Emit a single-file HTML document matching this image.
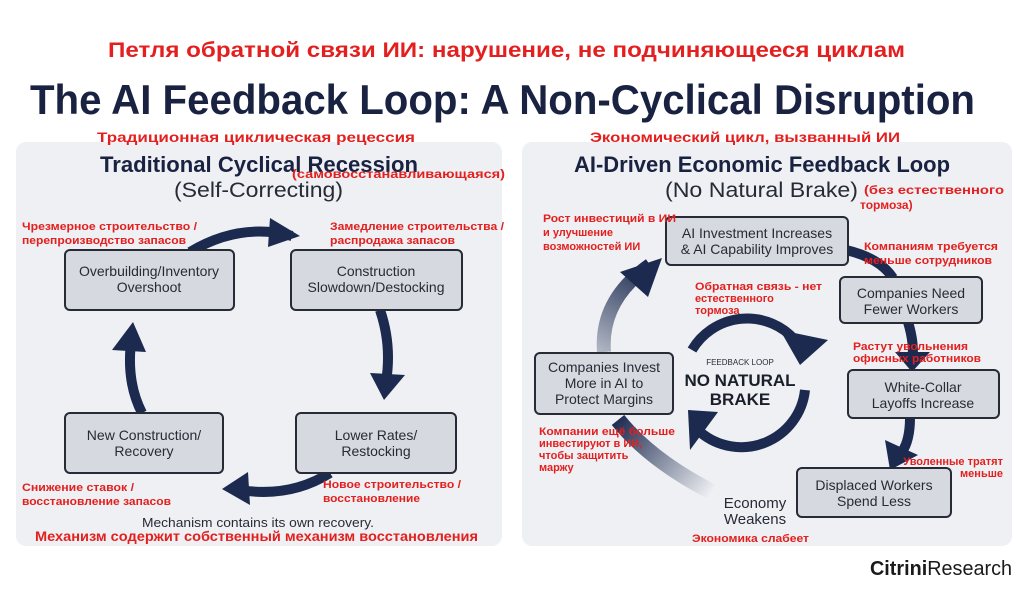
<!DOCTYPE html>
<html><head><meta charset="utf-8"><style>
html,body{margin:0;padding:0;background:#fff;}
svg{display:block}
text{font-family:"Liberation Sans","DejaVu Sans",sans-serif}
.r{fill:#e3201f;font-weight:bold;font-size:11px}
.bx{fill:#d6d9df;stroke:#262b36;stroke-width:2}
.bt{fill:#262b36;font-size:14px;text-anchor:middle}
.ar{fill:none;stroke:#1c2a50;stroke-width:10}
.ah{fill:#1c2a50}
</style></head><body>
<svg width="1024" height="589" viewBox="0 0 1024 589" xmlns="http://www.w3.org/2000/svg">
<defs>
<linearGradient id="fade" x1="710" y1="495" x2="615" y2="420" gradientUnits="userSpaceOnUse">
<stop offset="0" stop-color="#1c2a50" stop-opacity="0"/><stop offset="1" stop-color="#1c2a50" stop-opacity="1"/></linearGradient>
<linearGradient id="fade2" x1="600" y1="350" x2="650" y2="265" gradientUnits="userSpaceOnUse">
<stop offset="0" stop-color="#1c2a50" stop-opacity="0.3"/><stop offset="1" stop-color="#1c2a50" stop-opacity="1"/></linearGradient>
</defs>
<rect x="16" y="142" width="486" height="404" rx="10" fill="#eef0f3"/>
<rect x="522" y="142" width="490" height="404" rx="10" fill="#eef0f3"/>

<text x="108" y="57" textLength="797" lengthAdjust="spacingAndGlyphs" style="fill:#e3201f;font-weight:bold;font-size:21px">Петля обратной связи ИИ: нарушение, не подчиняющееся циклам</text>
<text x="30" y="114" textLength="945" lengthAdjust="spacingAndGlyphs" style="fill:#1a2242;font-weight:bold;font-size:42px">The AI Feedback Loop: A Non-Cyclical Disruption</text>

<!-- LEFT -->
<text class="r" x="97" y="142" textLength="318" lengthAdjust="spacingAndGlyphs" style="font-size:14px">Традиционная циклическая рецессия</text>
<text x="100" y="172" textLength="318" lengthAdjust="spacingAndGlyphs" style="fill:#1a2242;font-weight:bold;font-size:22px">Traditional Cyclical Recession</text>
<text x="174" y="197" textLength="169" lengthAdjust="spacingAndGlyphs" style="fill:#262b36;font-size:21px">(Self-Correcting)</text>
<text class="r" x="292" y="178" textLength="213" lengthAdjust="spacingAndGlyphs" style="font-size:12px">(самовосстанавливающаяся)</text>

<path class="ar" d="M190 252 Q240 222 292 236"/>
<polygon class="ah" points="270,218 300,236 268,247"/>
<path class="ar" d="M380 310 Q392 345 386 382"/>
<polygon class="ah" points="370,373 405,375 384,400"/>
<path class="ar" d="M330 473 Q290 498 240 490"/>
<polygon class="ah" points="248,472 222,489 250,505"/>
<path class="ar" d="M142 413 Q125 380 132 335"/>
<polygon class="ah" points="112,350 133,322 146,352"/>

<rect class="bx" x="65" y="250" width="169" height="60" rx="5"/>
<text class="bt" x="149" y="276">Overbuilding/Inventory</text><text class="bt" x="149" y="292">Overshoot</text>
<rect class="bx" x="291" y="250" width="171" height="60" rx="5"/>
<text class="bt" x="376" y="276">Construction</text><text class="bt" x="376" y="292">Slowdown/Destocking</text>
<rect class="bx" x="65" y="413" width="158" height="60" rx="5"/>
<text class="bt" x="144" y="440">New Construction/</text><text class="bt" x="144" y="456">Recovery</text>
<rect class="bx" x="296" y="413" width="160" height="60" rx="5"/>
<text class="bt" x="376" y="440">Lower Rates/</text><text class="bt" x="376" y="456">Restocking</text>

<text class="r" x="22" y="230" textLength="175" lengthAdjust="spacingAndGlyphs">Чрезмерное строительство /</text>
<text class="r" x="22" y="244" textLength="164" lengthAdjust="spacingAndGlyphs">перепроизводство запасов</text>
<text class="r" x="330" y="230" textLength="174" lengthAdjust="spacingAndGlyphs">Замедление строительства /</text>
<text class="r" x="330" y="244" textLength="125" lengthAdjust="spacingAndGlyphs">распродажа запасов</text>
<text class="r" x="22" y="491" textLength="112" lengthAdjust="spacingAndGlyphs">Снижение ставок /</text>
<text class="r" x="22" y="505" textLength="149" lengthAdjust="spacingAndGlyphs">восстановление запасов</text>
<text class="r" x="323" y="488" textLength="138" lengthAdjust="spacingAndGlyphs">Новое строительство /</text>
<text class="r" x="323" y="502" textLength="97" lengthAdjust="spacingAndGlyphs">восстановление</text>
<text x="142" y="527" textLength="232" lengthAdjust="spacingAndGlyphs" style="fill:#262b36;font-size:13px">Mechanism contains its own recovery.</text>
<text class="r" x="35" y="541" textLength="443" lengthAdjust="spacingAndGlyphs" style="font-size:14px">Механизм содержит собственный механизм восстановления</text>

<!-- RIGHT -->
<text class="r" x="590" y="142" textLength="310" lengthAdjust="spacingAndGlyphs" style="font-size:14px">Экономический цикл, вызванный ИИ</text>
<text x="574" y="172" textLength="376" lengthAdjust="spacingAndGlyphs" style="fill:#1a2242;font-weight:bold;font-size:22px">AI-Driven Economic Feedback Loop</text>
<text x="665" y="197" textLength="193" lengthAdjust="spacingAndGlyphs" style="fill:#262b36;font-size:21px">(No Natural Brake)</text>
<text class="r" x="864" y="194" textLength="140" lengthAdjust="spacingAndGlyphs" style="font-size:12px">(без естественного</text>
<text class="r" x="860" y="209" style="font-size:12px">тормоза)</text>

<path d="M604 352 Q600 300 650 265" fill="none" stroke="url(#fade2)" stroke-width="14"/>
<polygon class="ah" points="620,272 662,258 648,297"/>
<path class="ar" d="M846 250 Q880 258 893 278"/>
<path class="ar" d="M908 322 Q915 345 912 362"/>
<polygon class="ah" points="895,352 930,352 912,372"/>
<path class="ar" d="M910 418 Q910 440 902 452"/>
<polygon class="ah" points="885,440 918,455 890,470"/>
<path d="M712 492 Q650 460 618 420" fill="none" stroke="url(#fade)" stroke-width="16"/>

<!-- center loop -->
<path class="ar" d="M692 350 A64 64 0 0 1 795 340"/>
<polygon class="ah" points="780,330 828,340 800,365"/>
<path class="ar" d="M805 390 A64 64 0 0 1 700 432"/>
<polygon class="ah" points="718,412 690,450 688,410"/>
<text x="740" y="365" text-anchor="middle" style="fill:#262b36;font-size:8px">FEEDBACK LOOP</text>
<text x="740" y="386" text-anchor="middle" style="fill:#1a1f2a;font-size:17px;font-weight:bold">NO NATURAL</text>
<text x="740" y="405" text-anchor="middle" style="fill:#1a1f2a;font-size:17px;font-weight:bold">BRAKE</text>

<rect class="bx" x="666" y="217" width="182" height="48" rx="5"/>
<text class="bt" x="757" y="238">AI Investment Increases</text><text class="bt" x="757" y="254">&amp; AI Capability Improves</text>
<rect class="bx" x="840" y="277" width="142" height="46" rx="5"/>
<text class="bt" x="911" y="298">Companies Need</text><text class="bt" x="911" y="314">Fewer Workers</text>
<rect class="bx" x="848" y="370" width="151" height="48" rx="5"/>
<text class="bt" x="923" y="392">White-Collar</text><text class="bt" x="923" y="408">Layoffs Increase</text>
<rect class="bx" x="797" y="468" width="154" height="49" rx="5"/>
<text class="bt" x="874" y="490">Displaced Workers</text><text class="bt" x="874" y="506">Spend Less</text>
<rect class="bx" x="535" y="353" width="138" height="61" rx="5"/>
<text class="bt" x="604" y="372">Companies Invest</text><text class="bt" x="604" y="388">More in AI to</text><text class="bt" x="604" y="404">Protect Margins</text>
<text x="755" y="508" text-anchor="middle" style="fill:#262b36;font-size:15px">Economy</text>
<text x="755" y="524" text-anchor="middle" style="fill:#262b36;font-size:15px">Weakens</text>

<text class="r" x="543" y="222" textLength="133" lengthAdjust="spacingAndGlyphs">Рост инвестиций в ИИ</text>
<text class="r" x="543" y="236">и улучшение</text>
<text class="r" x="543" y="250">возможностей ИИ</text>
<text class="r" x="864" y="250" textLength="134" lengthAdjust="spacingAndGlyphs">Компаниям требуется</text>
<text class="r" x="864" y="264" textLength="128" lengthAdjust="spacingAndGlyphs">меньше сотрудников</text>
<text class="r" x="695" y="290" textLength="127" lengthAdjust="spacingAndGlyphs">Обратная связь - нет</text>
<text class="r" x="695" y="302">естественного</text>
<text class="r" x="695" y="314">тормоза</text>
<text class="r" x="853" y="350" textLength="115" lengthAdjust="spacingAndGlyphs">Растут увольнения</text>
<text class="r" x="853" y="362" textLength="128" lengthAdjust="spacingAndGlyphs">офисных работников</text>
<text class="r" x="539" y="435" textLength="136" lengthAdjust="spacingAndGlyphs">Компании ещё больше</text>
<text class="r" x="539" y="447">инвестируют в ИИ,</text>
<text class="r" x="539" y="459">чтобы защитить</text>
<text class="r" x="539" y="471">маржу</text>
<text class="r" x="1003" y="465" text-anchor="end">Уволенные тратят</text>
<text class="r" x="1003" y="477" text-anchor="end">меньше</text>
<text class="r" x="692" y="542" textLength="117" lengthAdjust="spacingAndGlyphs">Экономика слабеет</text>

<text x="870" y="575" textLength="142" lengthAdjust="spacingAndGlyphs" style="fill:#1a1a1a;font-size:20px"><tspan font-weight="bold">Citrini</tspan>Research</text>
</svg>
</body></html>
